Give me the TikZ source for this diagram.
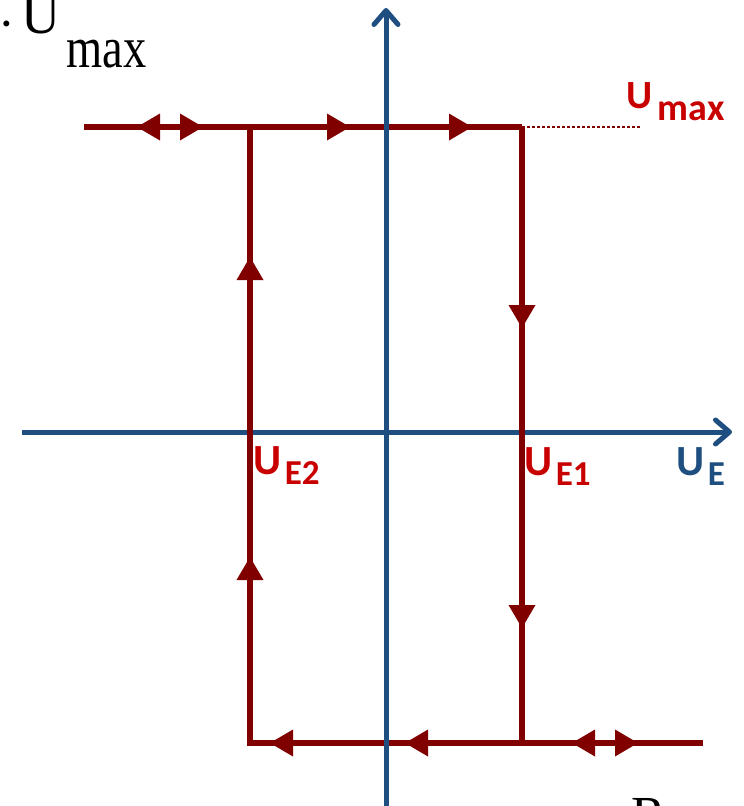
\documentclass[tikz,border=0pt]{standalone}
\usepackage{fontspec}
\usetikzlibrary{arrows.meta}
\newfontfamily\carl{Carlito}
\newfontfamily\tnr{Liberation Serif}
\definecolor{hyst}{RGB}{128,0,0}
\definecolor{lblred}{RGB}{200,0,0}
\definecolor{axisblue}{RGB}{31,78,128}
\newcommand\sublab[2]{{\fontsize{43}{43}\selectfont #1}\kern3pt\raisebox{-10pt}{\fontsize{35}{35}\selectfont #2}}
\begin{document}
\begin{tikzpicture}[x=1pt,y=-1pt,
  axisline/.style={draw=axisblue,line width=5pt,-{Straight Barb[length=14pt,width=24pt,round]}},
  hystline/.style={draw=hyst,line width=5.5pt,line join=miter},
  lbl/.style={inner sep=0pt,anchor=base west,font=\carl\bfseries},
  serif/.style={inner sep=0pt,anchor=base west,font=\tnr},
  arrR/.pic={\fill[hyst] (0,0) -- (-23,-13.5) -- (-23,13.5) -- cycle;},
  arrL/.pic={\fill[hyst] (0,0) -- (23,-13.5) -- (23,13.5) -- cycle;},
  arrU/.pic={\fill[hyst] (0,0) -- (-13.5,23) -- (13.5,23) -- cycle;},
  arrD/.pic={\fill[hyst] (0,0) -- (-13.5,-23) -- (13.5,-23) -- cycle;}
]
\useasboundingbox (0,0) rectangle (744,806);

% coordinates
\coordinate (xL) at (22,432);
\coordinate (xR) at (732,432);
\coordinate (yB) at (386,806);
\coordinate (yT) at (386,8);
\coordinate (topL) at (84,127);
\coordinate (A) at (250,127);
\coordinate (B) at (522,127);
\coordinate (Bdot) at (640,127);
\coordinate (C) at (522,743);
\coordinate (D) at (250,743);
\coordinate (botR) at (703,743);

% horizontal axis
\draw[axisline] (xL) -- (xR);

% hysteresis
\draw[hystline] (topL) -- (B);
\draw[hystline] (A) -- (D) -- (botR);
\draw[hystline] (B) -- (C);
\draw[draw=hyst,line width=2.5pt,dash pattern=on 2.5pt off 2.5pt] (B) -- (Bdot);

% vertical axis
\draw[axisline] (yB) -- (yT);

% direction marks
\pic at (137,127) {arrL};
\pic at (203,127) {arrR};
\pic at (350,127) {arrR};
\pic at (472,127) {arrR};
\pic at (250,257) {arrU};
\pic at (250,557) {arrU};
\pic at (522,328) {arrD};
\pic at (522,628) {arrD};
\pic at (270,743) {arrL};
\pic at (405,743) {arrL};
\pic at (572,743) {arrL};
\pic at (638,743) {arrR};

% labels
\node[lbl,text=lblred] (ue2) at (253.5,474) {\sublab{U}{E2}};
\node[lbl,text=lblred] (ue1) at (524.5,475) {\sublab{U}{E1}};
\node[lbl,text=axisblue] (ue) at (676.5,475) {\sublab{U}{E}};
\node[lbl,text=lblred] (umax) at (626.5,108) {{\fontsize{40}{40}\selectfont U}\kern5pt\raisebox{-12pt}{\fontsize{38}{38}\selectfont max}};

% cut-off labels at the corners
\node[serif] (dot) at (-2,40) {\fontsize{50}{50}\selectfont ·};
\node[serif] (tlU) at (21,33) {\fontsize{54}{54}\selectfont U};
\node[serif] (tlmax) at (66.5,67) {\scalebox{1}[1.25]{\fontsize{46.5}{46.5}\selectfont max}};
\node[serif] (brR) at (631,832) {\fontsize{52}{52}\selectfont R};
\end{tikzpicture}
\end{document}
